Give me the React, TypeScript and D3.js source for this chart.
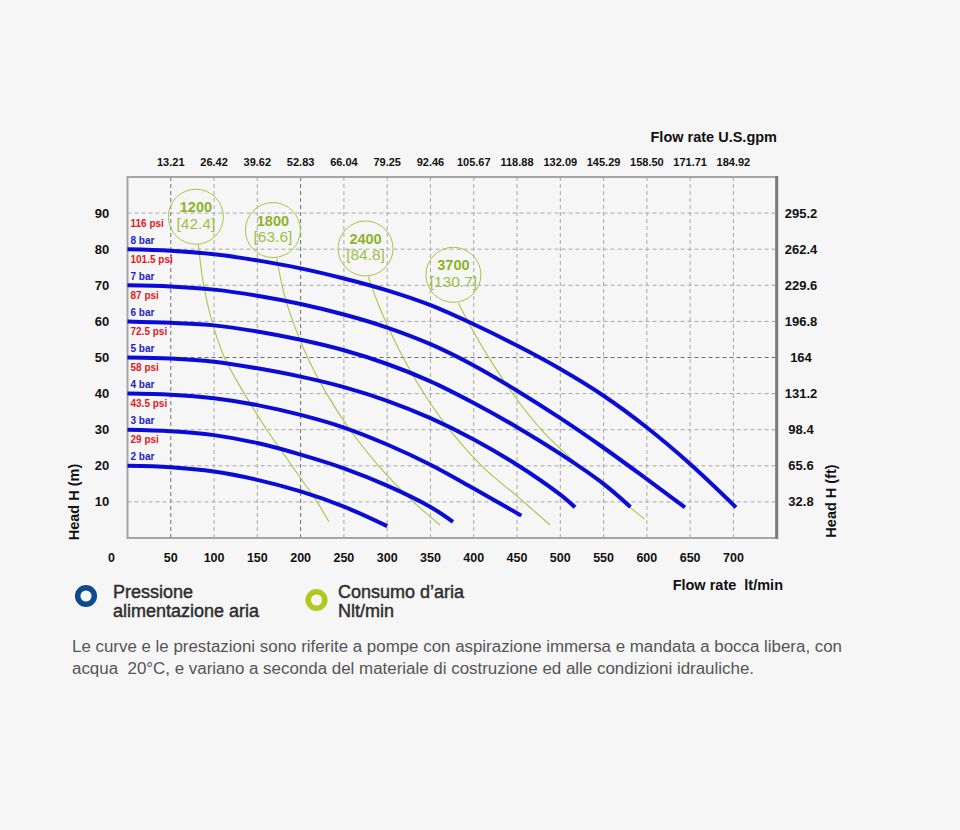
import React, { useEffect, useRef } from "react";
import * as d3 from "d3";

// Axis ticks and labels
const flowGrid = [50, 100, 150, 200, 250, 300, 350, 400, 450, 500, 550, 600, 650, 700];
const flowLabels = [0, 50, 100, 150, 200, 250, 300, 350, 400, 450, 500, 550, 600, 650, 700];
const gpmLabels = ["13.21", "26.42", "39.62", "52.83", "66.04", "79.25", "92.46", "105.67", "118.88", "132.09", "145.29", "158.50", "171.71", "184.92"];
const headTicks = [10, 20, 30, 40, 50, 60, 70, 80, 90];
const feetLabels = ["32.8", "65.6", "98.4", "131.2", "164", "196.8", "229.6", "262.4", "295.2"];
const darkFlowLines = [50, 200];
const darkHeadLines = [50];

// Supply pressure curves (flow lt/min, head m)
const barLabels = ["8 bar", "7 bar", "6 bar", "5 bar", "4 bar", "3 bar", "2 bar"];
const psiLabels = ["116 psi", "101.5 psi", "87 psi", "72.5 psi", "58 psi", "43.5 psi", "29 psi"];
const curve8bar: [number, number][] = [[0, 80], [50, 79.6], [100, 78.6], [150, 76.9], [200, 74.7], [250, 71.9], [300, 68.6], [350, 64.5], [400, 59.2], [450, 53.3], [500, 46.8], [550, 39.4], [600, 30.6], [650, 20.5], [703, 8.5]];
const curve7bar: [number, number][] = [[0, 70], [50, 69.7], [100, 68.8], [150, 67.1], [200, 64.8], [250, 61.9], [300, 58.3], [350, 53.7], [400, 47.8], [450, 40.8], [500, 33.2], [550, 25], [600, 16.3], [644, 8.5]];
const curve6bar: [number, number][] = [[0, 60], [50, 59.6], [100, 58.9], [150, 57.2], [200, 54.9], [250, 52], [300, 48.2], [350, 43.4], [400, 37.4], [450, 30.7], [500, 23.3], [550, 15], [581, 8.6]];
const curve5bar: [number, number][] = [[0, 50], [50, 49.7], [100, 48.8], [150, 47], [200, 44.7], [250, 41.8], [300, 38], [350, 33.2], [400, 27.3], [450, 20.3], [500, 12], [517, 8.5]];
const curve4bar: [number, number][] = [[0, 40], [50, 39.7], [100, 38.7], [150, 36.8], [200, 34.1], [250, 30.6], [300, 25.9], [350, 20.3], [400, 13.7], [455, 6.2]];
const curve3bar: [number, number][] = [[0, 30], [50, 29.6], [100, 28.5], [150, 26.3], [200, 23.1], [250, 19.3], [300, 14.5], [350, 8.6], [376, 4.5]];
const curve2bar: [number, number][] = [[0, 20], [50, 19.6], [100, 18.4], [150, 16.1], [200, 12.9], [250, 8.7], [300, 3.3]];
const pressureCurves = [curve8bar, curve7bar, curve6bar, curve5bar, curve4bar, curve3bar, curve2bar];

// Air consumption lines (Nlt/min)
const airValues = ["1200", "1800", "2400", "3700"];
const airBrackets = ["[42.4]", "[63.6]", "[84.8]", "[130.7]"];
const airBubbleFlow = [79, 168, 275, 376.5];
const airBubbleHead = [89, 85.3, 80.2, 72.9];
const air1200: [number, number][] = [[81.8, 81.2], [88, 70], [97, 60.5], [112, 50], [135, 40], [161, 30], [190, 20], [219, 10], [232.7, 4.5]];
const air1800: [number, number][] = [[172.4, 77.5], [180.5, 68], [191, 60], [208, 50], [230, 40], [257, 30], [290, 20], [326, 11], [361, 3.6]];
const air2400: [number, number][] = [[278.3, 72.4], [291, 64], [312, 53], [340, 41], [372, 30], [410, 19.8], [450, 11.6], [488.2, 3.6]];
const air3700: [number, number][] = [[382.3, 65], [400, 57], [420, 49], [448, 39], [480, 29.5], [515, 21.5], [555, 13.5], [597, 5.3]];
const airLines = [air1200, air1800, air2400, air3700];

const FONT = "Arial, 'Liberation Sans', sans-serif";

export default function App() {
  const svgRef = useRef<SVGSVGElement>(null);

  useEffect(() => {
    if (!svgRef.current) return;
    const svg = d3.select(svgRef.current);
    svg.selectAll("*").remove();

    const x = d3.scaleLinear().domain([0, 750]).range([127.5, 776.7]);
    const y = d3.scaleLinear().domain([0, 100]).range([538, 177]);

    svg.append("rect").attr("width", 960).attr("height", 830).attr("fill", "#f6f6f6");

    const g = svg.append("g").style("font-family", FONT);

    // grid
    g.selectAll(".vgrid")
      .data(flowGrid)
      .enter()
      .append("line")
      .attr("x1", (d) => x(d))
      .attr("x2", (d) => x(d))
      .attr("y1", y(100))
      .attr("y2", y(0))
      .attr("stroke", (d) => (darkFlowLines.includes(d) ? "#6e6e6e" : "#a8a8a8"))
      .attr("stroke-width", 1)
      .attr("stroke-dasharray", "4,3");

    g.selectAll(".hgrid")
      .data(headTicks)
      .enter()
      .append("line")
      .attr("x1", x(0))
      .attr("x2", x(750))
      .attr("y1", (d) => y(d))
      .attr("y2", (d) => y(d))
      .attr("stroke", (d) => (darkHeadLines.includes(d) ? "#6e6e6e" : "#a8a8a8"))
      .attr("stroke-width", 1)
      .attr("stroke-dasharray", "4,3");

    // frame
    g.append("rect")
      .attr("x", x(0))
      .attr("y", y(100))
      .attr("width", x(750) - x(0))
      .attr("height", y(0) - y(100))
      .attr("fill", "none")
      .attr("stroke", "#a5a5a5")
      .attr("stroke-width", 2);
    g.append("line")
      .attr("x1", x(750))
      .attr("x2", x(750))
      .attr("y1", y(100) - 1)
      .attr("y2", y(0) + 1)
      .attr("stroke", "#7a7a7a")
      .attr("stroke-width", 3);

    // axis labels
    g.selectAll(".gpm")
      .data(flowGrid)
      .enter()
      .append("text")
      .attr("x", (d) => x(d))
      .attr("y", 166)
      .attr("text-anchor", "middle")
      .style("font-size", "11px")
      .style("font-weight", "bold")
      .attr("fill", "#111")
      .text((d, i) => gpmLabels[i]);

    g.selectAll(".lpm")
      .data(flowLabels)
      .enter()
      .append("text")
      .attr("x", (d) => (d === 0 ? x(d) - 16 : x(d)))
      .attr("y", 562)
      .attr("text-anchor", "middle")
      .style("font-size", "12.5px")
      .style("font-weight", "bold")
      .attr("fill", "#111")
      .text((d) => d);

    g.selectAll(".hm")
      .data(headTicks)
      .enter()
      .append("text")
      .attr("x", 102)
      .attr("y", (d) => y(d) + 4.5)
      .attr("text-anchor", "middle")
      .style("font-size", "13px")
      .style("font-weight", "bold")
      .attr("fill", "#111")
      .text((d) => d);

    g.selectAll(".hft")
      .data(headTicks)
      .enter()
      .append("text")
      .attr("x", 801)
      .attr("y", (d) => y(d) + 4.5)
      .attr("text-anchor", "middle")
      .style("font-size", "13px")
      .style("font-weight", "bold")
      .attr("fill", "#111")
      .text((d, i) => feetLabels[i]);

    g.append("text")
      .attr("x", 777)
      .attr("y", 142)
      .attr("text-anchor", "end")
      .style("font-size", "14.5px")
      .style("font-weight", "bold")
      .attr("fill", "#111")
      .text("Flow rate U.S.gpm");

    g.append("text")
      .attr("x", 783)
      .attr("y", 590)
      .attr("text-anchor", "end")
      .style("font-size", "14.5px")
      .style("font-weight", "bold")
      .style("white-space", "pre")
      .attr("fill", "#111")
      .text("Flow rate  lt/min");

    g.append("text")
      .attr("transform", "translate(79,502) rotate(-90)")
      .attr("text-anchor", "middle")
      .style("font-size", "14.5px")
      .style("font-weight", "bold")
      .attr("fill", "#111")
      .text("Head H (m)");

    g.append("text")
      .attr("transform", "translate(836,501) rotate(-90)")
      .attr("text-anchor", "middle")
      .style("font-size", "14.5px")
      .style("font-weight", "bold")
      .attr("fill", "#111")
      .text("Head H (ft)");

    // air consumption lines
    const line = d3
      .line<[number, number]>()
      .x((d) => x(d[0]))
      .y((d) => y(d[1]))
      .curve(d3.curveCatmullRom.alpha(0.5));

    g.selectAll(".air")
      .data(airLines)
      .enter()
      .append("path")
      .attr("d", (d) => line(d))
      .attr("fill", "none")
      .attr("stroke", "#a9c545")
      .attr("stroke-width", 1.1);

    // pressure curves
    g.selectAll(".pump")
      .data(pressureCurves)
      .enter()
      .append("path")
      .attr("d", (d) => line(d))
      .attr("fill", "none")
      .attr("stroke", "#0b0bd6")
      .attr("stroke-width", 4);

    g.selectAll(".psi")
      .data(pressureCurves)
      .enter()
      .append("text")
      .attr("x", 130.5)
      .attr("y", (d) => y(d[0][1]) - 22.5)
      .style("font-size", "10px")
      .style("font-weight", "bold")
      .attr("fill", "#e5161c")
      .text((d, i) => psiLabels[i]);

    g.selectAll(".bar")
      .data(pressureCurves)
      .enter()
      .append("text")
      .attr("x", 130.5)
      .attr("y", (d) => y(d[0][1]) - 5.5)
      .style("font-size", "10px")
      .style("font-weight", "bold")
      .attr("fill", "#1d1dc9")
      .text((d, i) => barLabels[i]);

    // air consumption bubbles
    const bubbles = g
      .selectAll(".bubble")
      .data(airValues)
      .enter()
      .append("g")
      .attr("transform", (d, i) => `translate(${x(airBubbleFlow[i])},${y(airBubbleHead[i])})`);

    bubbles
      .append("circle")
      .attr("r", 27.5)
      .attr("fill", "none")
      .attr("stroke", "#a9c545")
      .attr("stroke-width", 1);

    bubbles
      .append("text")
      .attr("y", -4.5)
      .attr("text-anchor", "middle")
      .style("font-size", "14.5px")
      .style("font-weight", "bold")
      .attr("fill", "#8db22a")
      .text((d) => d);

    bubbles
      .append("text")
      .attr("y", 12)
      .attr("text-anchor", "middle")
      .style("font-size", "15.5px")
      .attr("fill", "#9dbf45")
      .text((d, i) => airBrackets[i]);

    // legend
    g.append("circle")
      .attr("cx", 86)
      .attr("cy", 596)
      .attr("r", 8.3)
      .attr("fill", "none")
      .attr("stroke", "#0d4a8e")
      .attr("stroke-width", 5.5);
    g.append("circle")
      .attr("cx", 316.5)
      .attr("cy", 600)
      .attr("r", 8.3)
      .attr("fill", "none")
      .attr("stroke", "#b0ca1f")
      .attr("stroke-width", 5.5);

    const legendText = [
      { x: 113, y: 598, t: "Pressione" },
      { x: 113, y: 617, t: "alimentazione aria" },
      { x: 338, y: 598, t: "Consumo d\u2019aria" },
      { x: 338, y: 617, t: "Nlt/min" },
    ];
    g.selectAll(".legend")
      .data(legendText)
      .enter()
      .append("text")
      .attr("x", (d) => d.x)
      .attr("y", (d) => d.y)
      .style("font-size", "18px")
      .attr("fill", "#2e2e2e")
      .attr("stroke", "#2e2e2e")
      .attr("stroke-width", 0.45)
      .text((d) => d.t);

    // footnote
    g.append("text")
      .attr("x", 72)
      .attr("y", 652)
      .attr("textLength", 770)
      .attr("lengthAdjust", "spacingAndGlyphs")
      .style("font-size", "16px")
      .attr("fill", "#555")
      .text(
        "Le curve e le prestazioni sono riferite a pompe con aspirazione immersa e mandata a bocca libera, con"
      );
    g.append("text")
      .attr("x", 72)
      .attr("y", 674)
      .attr("textLength", 682)
      .attr("lengthAdjust", "spacingAndGlyphs")
      .style("font-size", "16px")
      .style("white-space", "pre")
      .attr("fill", "#555")
      .text(
        "acqua  20\u00b0C, e variano a seconda del materiale di costruzione ed alle condizioni idrauliche."
      );
  }, []);

  return (
    <div style={{ position: "absolute", left: 0, top: 0 }}>
      <svg ref={svgRef} width={960} height={830} style={{ display: "block" }} />
    </div>
  );
}
